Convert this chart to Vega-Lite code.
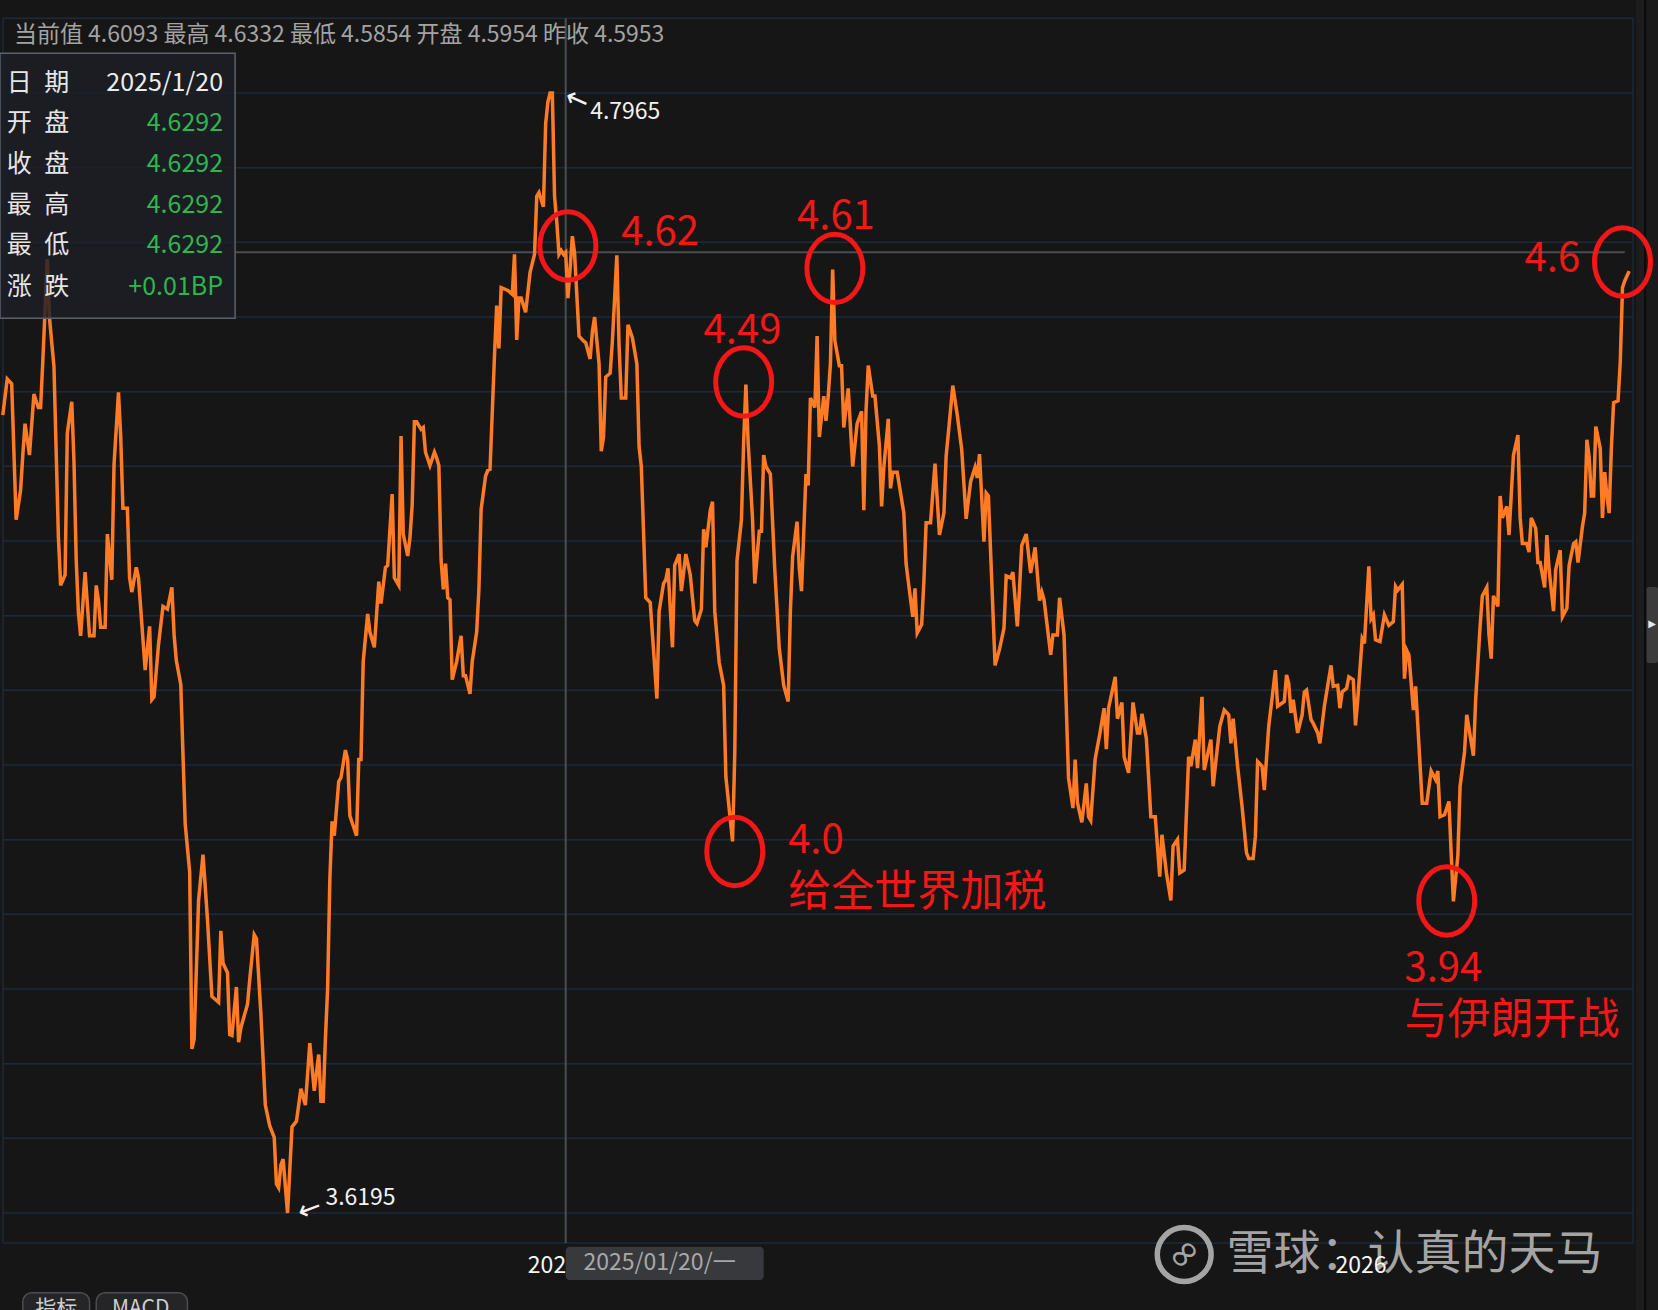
{
  "$schema": "https://vega.github.io/schema/vega-lite/v6.json",
  "width": 1658,
  "height": 1310,
  "autosize": {"type": "none"},
  "padding": 0,
  "background": "#161616",
  "config": {"view": {"stroke": null}, "font": "Noto Sans CJK SC"},
  "datasets": {
    "series": [
      {"date":"2024-05-12","v":4.458},{"date":"2024-05-14","v":4.496},{"date":"2024-05-16","v":4.491},{"date":"2024-05-18","v":4.348},
      {"date":"2024-05-20","v":4.379},{"date":"2024-05-21","v":4.416},{"date":"2024-05-22","v":4.449},{"date":"2024-05-24","v":4.416},
      {"date":"2024-05-26","v":4.480},{"date":"2024-05-28","v":4.466},{"date":"2024-05-29","v":4.466},{"date":"2024-05-30","v":4.515},
      {"date":"2024-06-01","v":4.622},{"date":"2024-06-02","v":4.560},{"date":"2024-06-04","v":4.509},{"date":"2024-06-06","v":4.330},
      {"date":"2024-06-07","v":4.279},{"date":"2024-06-09","v":4.290},{"date":"2024-06-10","v":4.439},{"date":"2024-06-12","v":4.472},
      {"date":"2024-06-13","v":4.409},{"date":"2024-06-14","v":4.306},{"date":"2024-06-15","v":4.250},{"date":"2024-06-16","v":4.226},
      {"date":"2024-06-18","v":4.293},{"date":"2024-06-20","v":4.226},{"date":"2024-06-22","v":4.226},{"date":"2024-06-23","v":4.279},
      {"date":"2024-06-24","v":4.263},{"date":"2024-06-25","v":4.235},{"date":"2024-06-27","v":4.235},{"date":"2024-06-28","v":4.333},
      {"date":"2024-06-30","v":4.285},{"date":"2024-07-01","v":4.406},{"date":"2024-07-03","v":4.482},{"date":"2024-07-04","v":4.436},
      {"date":"2024-07-05","v":4.360},{"date":"2024-07-07","v":4.360},{"date":"2024-07-08","v":4.287},{"date":"2024-07-09","v":4.272},
      {"date":"2024-07-11","v":4.298},{"date":"2024-07-12","v":4.287},{"date":"2024-07-15","v":4.190},{"date":"2024-07-17","v":4.236},
      {"date":"2024-07-18","v":4.159},{"date":"2024-07-19","v":4.162},{"date":"2024-07-21","v":4.217},{"date":"2024-07-23","v":4.257},
      {"date":"2024-07-25","v":4.254},{"date":"2024-07-27","v":4.277},{"date":"2024-07-28","v":4.227},{"date":"2024-07-29","v":4.200},
      {"date":"2024-07-31","v":4.175},{"date":"2024-08-01","v":4.101},{"date":"2024-08-02","v":4.028},{"date":"2024-08-04","v":3.978},
      {"date":"2024-08-05","v":3.792},{"date":"2024-08-06","v":3.802},{"date":"2024-08-08","v":3.948},{"date":"2024-08-10","v":3.996},
      {"date":"2024-08-12","v":3.928},{"date":"2024-08-14","v":3.847},{"date":"2024-08-17","v":3.841},{"date":"2024-08-18","v":3.916},
      {"date":"2024-08-19","v":3.882},{"date":"2024-08-21","v":3.872},{"date":"2024-08-22","v":3.807},{"date":"2024-08-23","v":3.806},
      {"date":"2024-08-25","v":3.857},{"date":"2024-08-26","v":3.799},{"date":"2024-08-27","v":3.814},{"date":"2024-08-30","v":3.839},
      {"date":"2024-08-31","v":3.865},{"date":"2024-09-02","v":3.912},{"date":"2024-09-03","v":3.908},{"date":"2024-09-05","v":3.829},
      {"date":"2024-09-07","v":3.733},{"date":"2024-09-09","v":3.711},{"date":"2024-09-11","v":3.699},{"date":"2024-09-12","v":3.650},
      {"date":"2024-09-13","v":3.646},{"date":"2024-09-14","v":3.670},{"date":"2024-09-15","v":3.676},{"date":"2024-09-17","v":3.6195},
      {"date":"2024-09-19","v":3.710},{"date":"2024-09-21","v":3.716},{"date":"2024-09-23","v":3.750},{"date":"2024-09-25","v":3.733},
      {"date":"2024-09-27","v":3.798},{"date":"2024-09-29","v":3.748},{"date":"2024-10-01","v":3.786},{"date":"2024-10-02","v":3.737},
      {"date":"2024-10-03","v":3.737},{"date":"2024-10-04","v":3.802},{"date":"2024-10-05","v":3.855},{"date":"2024-10-06","v":3.970},
      {"date":"2024-10-07","v":4.031},{"date":"2024-10-08","v":4.016},{"date":"2024-10-10","v":4.073},{"date":"2024-10-11","v":4.077},
      {"date":"2024-10-13","v":4.106},{"date":"2024-10-14","v":4.096},{"date":"2024-10-15","v":4.037},{"date":"2024-10-18","v":4.016},
      {"date":"2024-10-19","v":4.096},{"date":"2024-10-20","v":4.096},{"date":"2024-10-21","v":4.199},{"date":"2024-10-23","v":4.249},
      {"date":"2024-10-24","v":4.230},{"date":"2024-10-26","v":4.214},{"date":"2024-10-28","v":4.283},{"date":"2024-10-29","v":4.260},
      {"date":"2024-10-31","v":4.298},{"date":"2024-11-01","v":4.300},{"date":"2024-11-03","v":4.375},{"date":"2024-11-04","v":4.287},
      {"date":"2024-11-06","v":4.279},{"date":"2024-11-07","v":4.436},{"date":"2024-11-08","v":4.333},{"date":"2024-11-10","v":4.310},
      {"date":"2024-11-11","v":4.329},{"date":"2024-11-12","v":4.363},{"date":"2024-11-13","v":4.451},{"date":"2024-11-14","v":4.451},
      {"date":"2024-11-16","v":4.443},{"date":"2024-11-17","v":4.445},{"date":"2024-11-18","v":4.419},{"date":"2024-11-20","v":4.405},
      {"date":"2024-11-22","v":4.419},{"date":"2024-11-23","v":4.413},{"date":"2024-11-24","v":4.405},{"date":"2024-11-25","v":4.306},
      {"date":"2024-11-26","v":4.275},{"date":"2024-11-27","v":4.302},{"date":"2024-11-28","v":4.266},{"date":"2024-11-29","v":4.264},
      {"date":"2024-11-30","v":4.180},{"date":"2024-12-02","v":4.199},{"date":"2024-12-04","v":4.226},{"date":"2024-12-05","v":4.184},
      {"date":"2024-12-06","v":4.184},{"date":"2024-12-08","v":4.165},{"date":"2024-12-09","v":4.199},{"date":"2024-12-11","v":4.230},
      {"date":"2024-12-12","v":4.275},{"date":"2024-12-13","v":4.359},{"date":"2024-12-15","v":4.394},{"date":"2024-12-16","v":4.400},
      {"date":"2024-12-17","v":4.401},{"date":"2024-12-19","v":4.520},{"date":"2024-12-20","v":4.573},{"date":"2024-12-21","v":4.528},
      {"date":"2024-12-22","v":4.592},{"date":"2024-12-25","v":4.589},{"date":"2024-12-27","v":4.585},{"date":"2024-12-28","v":4.627},
      {"date":"2024-12-29","v":4.537},{"date":"2024-12-30","v":4.581},{"date":"2024-12-31","v":4.581},{"date":"2025-01-02","v":4.566},
      {"date":"2025-01-04","v":4.608},{"date":"2025-01-06","v":4.627},{"date":"2025-01-07","v":4.688},{"date":"2025-01-08","v":4.692},
      {"date":"2025-01-10","v":4.677},{"date":"2025-01-11","v":4.764},{"date":"2025-01-12","v":4.787},{"date":"2025-01-13","v":4.7965},
      {"date":"2025-01-14","v":4.7965},{"date":"2025-01-15","v":4.688},{"date":"2025-01-16","v":4.661},{"date":"2025-01-17","v":4.627},
      {"date":"2025-01-18","v":4.631},{"date":"2025-01-19","v":4.627},{"date":"2025-01-20","v":4.6292},{"date":"2025-01-21","v":4.581},
      {"date":"2025-01-22","v":4.612},{"date":"2025-01-23","v":4.646},{"date":"2025-01-24","v":4.628},{"date":"2025-01-26","v":4.541},
      {"date":"2025-01-28","v":4.536},{"date":"2025-01-29","v":4.534},{"date":"2025-01-31","v":4.517},{"date":"2025-02-01","v":4.546},
      {"date":"2025-02-02","v":4.561},{"date":"2025-02-04","v":4.512},{"date":"2025-02-05","v":4.420},{"date":"2025-02-06","v":4.435},
      {"date":"2025-02-07","v":4.498},{"date":"2025-02-09","v":4.502},{"date":"2025-02-10","v":4.536},{"date":"2025-02-12","v":4.626},
      {"date":"2025-02-13","v":4.531},{"date":"2025-02-14","v":4.476},{"date":"2025-02-16","v":4.476},{"date":"2025-02-17","v":4.553},
      {"date":"2025-02-19","v":4.539},{"date":"2025-02-21","v":4.512},{"date":"2025-02-22","v":4.425},{"date":"2025-02-23","v":4.404},
      {"date":"2025-02-25","v":4.266},{"date":"2025-02-27","v":4.261},{"date":"2025-03-02","v":4.160},{"date":"2025-03-03","v":4.252},
      {"date":"2025-03-05","v":4.281},{"date":"2025-03-06","v":4.285},{"date":"2025-03-07","v":4.297},{"date":"2025-03-09","v":4.214},
      {"date":"2025-03-10","v":4.300},{"date":"2025-03-12","v":4.312},{"date":"2025-03-13","v":4.273},{"date":"2025-03-15","v":4.312},
      {"date":"2025-03-17","v":4.290},{"date":"2025-03-19","v":4.242},{"date":"2025-03-20","v":4.239},{"date":"2025-03-22","v":4.254},
      {"date":"2025-03-23","v":4.338},{"date":"2025-03-24","v":4.319},{"date":"2025-03-26","v":4.358},{"date":"2025-03-27","v":4.367},
      {"date":"2025-03-28","v":4.252},{"date":"2025-03-30","v":4.198},{"date":"2025-04-01","v":4.174},{"date":"2025-04-02","v":4.078},
      {"date":"2025-04-05","v":4.010},{"date":"2025-04-06","v":4.102},{"date":"2025-04-07","v":4.305},{"date":"2025-04-09","v":4.348},
      {"date":"2025-04-10","v":4.430},{"date":"2025-04-11","v":4.490},{"date":"2025-04-12","v":4.430},{"date":"2025-04-14","v":4.348},
      {"date":"2025-04-15","v":4.281},{"date":"2025-04-17","v":4.336},{"date":"2025-04-18","v":4.336},{"date":"2025-04-19","v":4.416},
      {"date":"2025-04-20","v":4.404},{"date":"2025-04-22","v":4.396},{"date":"2025-04-24","v":4.295},{"date":"2025-04-26","v":4.213},
      {"date":"2025-04-28","v":4.174},{"date":"2025-04-30","v":4.157},{"date":"2025-05-01","v":4.252},{"date":"2025-05-02","v":4.309},
      {"date":"2025-05-04","v":4.346},{"date":"2025-05-05","v":4.297},{"date":"2025-05-06","v":4.273},{"date":"2025-05-08","v":4.396},
      {"date":"2025-05-09","v":4.384},{"date":"2025-05-10","v":4.476},{"date":"2025-05-12","v":4.466},{"date":"2025-05-13","v":4.541},
      {"date":"2025-05-14","v":4.435},{"date":"2025-05-16","v":4.478},{"date":"2025-05-17","v":4.452},{"date":"2025-05-18","v":4.478},
      {"date":"2025-05-19","v":4.512},{"date":"2025-05-20","v":4.611},{"date":"2025-05-21","v":4.536},{"date":"2025-05-23","v":4.510},
      {"date":"2025-05-24","v":4.510},{"date":"2025-05-25","v":4.445},{"date":"2025-05-27","v":4.486},{"date":"2025-05-29","v":4.404},
      {"date":"2025-05-31","v":4.449},{"date":"2025-06-02","v":4.462},{"date":"2025-06-03","v":4.358},{"date":"2025-06-04","v":4.463},
      {"date":"2025-06-05","v":4.510},{"date":"2025-06-07","v":4.478},{"date":"2025-06-08","v":4.478},{"date":"2025-06-10","v":4.426},
      {"date":"2025-06-11","v":4.362},{"date":"2025-06-12","v":4.403},{"date":"2025-06-14","v":4.454},{"date":"2025-06-15","v":4.381},
      {"date":"2025-06-16","v":4.398},{"date":"2025-06-18","v":4.398},{"date":"2025-06-21","v":4.355},{"date":"2025-06-22","v":4.302},
      {"date":"2025-06-23","v":4.283},{"date":"2025-06-25","v":4.246},{"date":"2025-06-26","v":4.276},{"date":"2025-06-27","v":4.229},
      {"date":"2025-06-29","v":4.238},{"date":"2025-06-30","v":4.283},{"date":"2025-07-01","v":4.345},{"date":"2025-07-03","v":4.345},
      {"date":"2025-07-05","v":4.407},{"date":"2025-07-07","v":4.332},{"date":"2025-07-09","v":4.355},{"date":"2025-07-10","v":4.415},
      {"date":"2025-07-11","v":4.439},{"date":"2025-07-13","v":4.489},{"date":"2025-07-15","v":4.458},{"date":"2025-07-17","v":4.422},
      {"date":"2025-07-19","v":4.349},{"date":"2025-07-21","v":4.388},{"date":"2025-07-23","v":4.403},{"date":"2025-07-24","v":4.392},
      {"date":"2025-07-25","v":4.417},{"date":"2025-07-27","v":4.325},{"date":"2025-07-28","v":4.376},{"date":"2025-07-29","v":4.373},
      {"date":"2025-08-01","v":4.195},{"date":"2025-08-03","v":4.212},{"date":"2025-08-05","v":4.234},{"date":"2025-08-06","v":4.289},
      {"date":"2025-08-08","v":4.287},{"date":"2025-08-09","v":4.293},{"date":"2025-08-11","v":4.236},{"date":"2025-08-12","v":4.276},
      {"date":"2025-08-13","v":4.321},{"date":"2025-08-15","v":4.333},{"date":"2025-08-17","v":4.292},{"date":"2025-08-19","v":4.319},
      {"date":"2025-08-21","v":4.263},{"date":"2025-08-22","v":4.272},{"date":"2025-08-23","v":4.264},{"date":"2025-08-26","v":4.206},
      {"date":"2025-08-27","v":4.227},{"date":"2025-08-29","v":4.227},{"date":"2025-08-30","v":4.266},{"date":"2025-09-01","v":4.227},
      {"date":"2025-09-03","v":4.077},{"date":"2025-09-05","v":4.045},{"date":"2025-09-06","v":4.096},{"date":"2025-09-07","v":4.051},
      {"date":"2025-09-09","v":4.030},{"date":"2025-09-11","v":4.071},{"date":"2025-09-12","v":4.036},{"date":"2025-09-13","v":4.032},
      {"date":"2025-09-15","v":4.097},{"date":"2025-09-17","v":4.122},{"date":"2025-09-19","v":4.150},{"date":"2025-09-20","v":4.107},
      {"date":"2025-09-21","v":4.150},{"date":"2025-09-24","v":4.183},{"date":"2025-09-25","v":4.139},{"date":"2025-09-27","v":4.156},
      {"date":"2025-09-28","v":4.099},{"date":"2025-09-30","v":4.082},{"date":"2025-10-02","v":4.156},{"date":"2025-10-04","v":4.124},
      {"date":"2025-10-05","v":4.124},{"date":"2025-10-06","v":4.144},{"date":"2025-10-08","v":4.118},{"date":"2025-10-10","v":4.036},
      {"date":"2025-10-12","v":4.036},{"date":"2025-10-14","v":3.973},{"date":"2025-10-15","v":4.017},{"date":"2025-10-17","v":3.977},
      {"date":"2025-10-19","v":3.948},{"date":"2025-10-20","v":4.005},{"date":"2025-10-22","v":4.012},{"date":"2025-10-23","v":3.977},
      {"date":"2025-10-25","v":3.980},{"date":"2025-10-27","v":4.099},{"date":"2025-10-28","v":4.089},{"date":"2025-10-30","v":4.117},
      {"date":"2025-10-31","v":4.087},{"date":"2025-11-02","v":4.162},{"date":"2025-11-03","v":4.085},{"date":"2025-11-06","v":4.117},
      {"date":"2025-11-07","v":4.068},{"date":"2025-11-10","v":4.131},{"date":"2025-11-12","v":4.148},{"date":"2025-11-14","v":4.143},
      {"date":"2025-11-15","v":4.113},{"date":"2025-11-16","v":4.139},{"date":"2025-11-18","v":4.089},{"date":"2025-11-20","v":4.047},
      {"date":"2025-11-22","v":3.998},{"date":"2025-11-23","v":3.992},{"date":"2025-11-25","v":3.992},{"date":"2025-11-26","v":4.015},
      {"date":"2025-11-27","v":4.094},{"date":"2025-11-29","v":4.089},{"date":"2025-11-30","v":4.064},{"date":"2025-12-02","v":4.131},
      {"date":"2025-12-05","v":4.190},{"date":"2025-12-06","v":4.152},{"date":"2025-12-09","v":4.157},{"date":"2025-12-10","v":4.185},
      {"date":"2025-12-11","v":4.176},{"date":"2025-12-12","v":4.145},{"date":"2025-12-13","v":4.159},{"date":"2025-12-15","v":4.124},
      {"date":"2025-12-17","v":4.143},{"date":"2025-12-18","v":4.167},{"date":"2025-12-19","v":4.169},{"date":"2025-12-21","v":4.138},
      {"date":"2025-12-22","v":4.134},{"date":"2025-12-24","v":4.124},{"date":"2025-12-25","v":4.113},{"date":"2025-12-27","v":4.152},
      {"date":"2025-12-30","v":4.195},{"date":"2025-12-31","v":4.173},{"date":"2026-01-02","v":4.174},{"date":"2026-01-03","v":4.150},
      {"date":"2026-01-04","v":4.167},{"date":"2026-01-06","v":4.171},{"date":"2026-01-07","v":4.183},{"date":"2026-01-09","v":4.180},
      {"date":"2026-01-10","v":4.132},{"date":"2026-01-11","v":4.159},{"date":"2026-01-13","v":4.223},{"date":"2026-01-14","v":4.218},
      {"date":"2026-01-16","v":4.299},{"date":"2026-01-17","v":4.244},{"date":"2026-01-18","v":4.248},{"date":"2026-01-19","v":4.222},
      {"date":"2026-01-21","v":4.220},{"date":"2026-01-23","v":4.248},{"date":"2026-01-25","v":4.237},{"date":"2026-01-27","v":4.241},
      {"date":"2026-01-28","v":4.278},{"date":"2026-01-29","v":4.274},{"date":"2026-01-31","v":4.280},{"date":"2026-02-01","v":4.181},
      {"date":"2026-02-02","v":4.211},{"date":"2026-02-03","v":4.206},{"date":"2026-02-05","v":4.148},{"date":"2026-02-06","v":4.173},
      {"date":"2026-02-09","v":4.050},{"date":"2026-02-11","v":4.050},{"date":"2026-02-13","v":4.084},{"date":"2026-02-15","v":4.075},
      {"date":"2026-02-16","v":4.084},{"date":"2026-02-17","v":4.036},{"date":"2026-02-19","v":4.038},{"date":"2026-02-21","v":4.052},
      {"date":"2026-02-22","v":3.997},{"date":"2026-02-23","v":3.947},{"date":"2026-02-25","v":3.995},{"date":"2026-02-26","v":4.068},
      {"date":"2026-02-28","v":4.104},{"date":"2026-03-01","v":4.143},{"date":"2026-03-04","v":4.100},{"date":"2026-03-05","v":4.159},
      {"date":"2026-03-07","v":4.236},{"date":"2026-03-08","v":4.268},{"date":"2026-03-10","v":4.277},{"date":"2026-03-11","v":4.227},
      {"date":"2026-03-12","v":4.202},{"date":"2026-03-13","v":4.268},{"date":"2026-03-15","v":4.257},{"date":"2026-03-16","v":4.373},
      {"date":"2026-03-17","v":4.350},{"date":"2026-03-19","v":4.362},{"date":"2026-03-20","v":4.332},{"date":"2026-03-22","v":4.416},
      {"date":"2026-03-24","v":4.437},{"date":"2026-03-25","v":4.350},{"date":"2026-03-26","v":4.323},{"date":"2026-03-28","v":4.323},
      {"date":"2026-03-29","v":4.314},{"date":"2026-03-30","v":4.350},{"date":"2026-04-01","v":4.339},{"date":"2026-04-02","v":4.303},
      {"date":"2026-04-03","v":4.303},{"date":"2026-04-05","v":4.277},{"date":"2026-04-06","v":4.332},{"date":"2026-04-07","v":4.296},
      {"date":"2026-04-09","v":4.252},{"date":"2026-04-10","v":4.296},{"date":"2026-04-12","v":4.316},{"date":"2026-04-13","v":4.246},
      {"date":"2026-04-15","v":4.255},{"date":"2026-04-16","v":4.300},{"date":"2026-04-18","v":4.323},{"date":"2026-04-19","v":4.325},
      {"date":"2026-04-20","v":4.303},{"date":"2026-04-22","v":4.341},{"date":"2026-04-23","v":4.355},{"date":"2026-04-24","v":4.432},
      {"date":"2026-04-25","v":4.414},{"date":"2026-04-26","v":4.373},{"date":"2026-04-27","v":4.373},{"date":"2026-04-28","v":4.446},
      {"date":"2026-04-30","v":4.423},{"date":"2026-05-01","v":4.350},{"date":"2026-05-02","v":4.398},{"date":"2026-05-03","v":4.373},
      {"date":"2026-05-04","v":4.355},{"date":"2026-05-05","v":4.423},{"date":"2026-05-06","v":4.471},{"date":"2026-05-08","v":4.473},
      {"date":"2026-05-09","v":4.514},{"date":"2026-05-10","v":4.592},{"date":"2026-05-11","v":4.599},{"date":"2026-05-13","v":4.6093}
    ],
    "grid": [
      {"v":4.875},{"v":4.79653},{"v":4.71806},{"v":4.63959},{"v":4.56112},{"v":4.48265},{"v":4.40418},{"v":4.32571},{"v":4.24724},
      {"v":4.16877},{"v":4.0903},{"v":4.01183},{"v":3.93336},{"v":3.85489},{"v":3.77642},{"v":3.69795},{"v":3.61948},{"v":3.58797}
    ],
    "rings": [
      {"date":"2025-01-21","v":4.6357},{"date":"2025-04-10","v":4.4928},{"date":"2025-05-21","v":4.6122},
      {"date":"2025-04-06","v":3.9994},{"date":"2026-02-20","v":3.9474},{"date":"2026-05-10","v":4.6189}
    ],
    "redNums": [
      {"date":"2025-02-14","v":4.6498,"label":"4.62"},{"date":"2025-03-23","v":4.5459,"label":"4.49"},
      {"date":"2025-05-04","v":4.6664,"label":"4.61"},{"date":"2025-04-30","v":4.0102,"label":"4.0"},
      {"date":"2026-02-01","v":3.8763,"label":"3.94"},{"date":"2026-03-27","v":4.6221,"label":"4.6"}
    ],
    "redWords": [
      {"date":"2025-04-30","v":3.9553,"label":"给全世界加税"},{"date":"2026-02-01","v":3.8209,"label":"与伊朗开战"}
    ],
    "extremes": [
      {"date":"2025-01-31","v":4.7769,"label":"4.7965"},{"date":"2024-10-04","v":3.6353,"label":"3.6195"}
    ],
    "tip": [
      {"k":"日\u2002期","val":"2025/1/20","v":4.80669},
      {"k":"开\u2002盘","val":"4.6292","v":4.76465},
      {"k":"收\u2002盘","val":"4.6292","v":4.72188},
      {"k":"最\u2002高","val":"4.6292","v":4.67880},
      {"k":"最\u2002低","val":"4.6292","v":4.63676},
      {"k":"涨\u2002跌","val":"+0.01BP","v":4.59294}
    ],
    "info": [
      {"date":"2024-05-17","v":4.85745,"label":"当前值 4.6093 最高 4.6332 最低 4.5854 开盘 4.5954 昨收 4.5953"}
    ],
    "years": [
      {"date":"2025-01-03","v":3.5638,"label":"2025"},{"date":"2026-01-01","v":3.5638,"label":"2026"}
    ],
    "buttons": [
      {"start":"2024-05-21","end":"2024-06-20","mid":"2024-06-05","label":"指标"},
      {"start":"2024-06-23","end":"2024-08-03","mid":"2024-07-13","label":"MACD"}
    ]
  },
  "layer": [
    {
      "data": {"name": "grid"},
      "mark": {"type": "rule", "color": "#1c2a3a", "strokeWidth": 1.5},
      "encoding": {
        "x": {"datum": {"year":2024,"month":5,"date":12,"hours":2,"utc":true}, "type": "temporal",
              "scale": {"type":"utc","domain":[{"year":2024,"month":5,"date":10,"hours":18,"utc":true},{"year":2026,"month":5,"date":25,"hours":23,"utc":true}]}, "axis": null},
        "x2": {"datum": {"year":2026,"month":5,"date":14,"hours":17,"utc":true}},
        "y": {"field": "v", "type": "quantitative", "scale": {"domain":[3.51757,4.89423],"nice":false,"zero":false}, "axis": null}
      }
    },
    {
      "data": {"values": [{}]},
      "mark": {"type": "rule", "color": "#1c2a3a", "strokeWidth": 1.5},
      "encoding": {
        "x": {"datum": {"year":2026,"month":5,"date":14,"hours":17,"utc":true}, "type": "temporal",
              "scale": {"type":"utc","domain":[{"year":2024,"month":5,"date":10,"hours":18,"utc":true},{"year":2026,"month":5,"date":25,"hours":23,"utc":true}]}, "axis": null},
        "y": {"datum": 4.875, "type": "quantitative", "scale": {"domain":[3.51757,4.89423],"nice":false,"zero":false}, "axis": null},
        "y2": {"datum": 3.58797}
      }
    },
    {
      "data": {"values": [{}]},
      "mark": {"type": "rule", "color": "#1c2a3a", "strokeWidth": 1.5},
      "encoding": {
        "x": {"datum": {"year":2024,"month":5,"date":12,"hours":2,"utc":true}, "type": "temporal",
              "scale": {"type":"utc","domain":[{"year":2024,"month":5,"date":10,"hours":18,"utc":true},{"year":2026,"month":5,"date":25,"hours":23,"utc":true}]}, "axis": null},
        "y": {"datum": 4.875, "type": "quantitative", "scale": {"domain":[3.51757,4.89423],"nice":false,"zero":false}, "axis": null},
        "y2": {"datum": 3.58797}
      }
    },
    {
      "data": {"values": [{}]},
      "mark": {"type": "rect", "fill": "#1d1d1d"},
      "encoding": {
        "x": {"datum": {"year":2026,"month":5,"date":16,"hours":2,"utc":true}, "type": "temporal",
              "scale": {"type":"utc","domain":[{"year":2024,"month":5,"date":10,"hours":18,"utc":true},{"year":2026,"month":5,"date":25,"hours":23,"utc":true}]}, "axis": null},
        "x2": {"datum": {"year":2026,"month":5,"date":19,"hours":16,"utc":true}},
        "y": {"datum": 4.89423, "type": "quantitative", "scale": {"domain":[3.51757,4.89423],"nice":false,"zero":false}, "axis": null},
        "y2": {"datum": 3.51757}
      }
    },
    {
      "data": {"values": [{}]},
      "mark": {"type": "rect", "fill": "#0b0b0b"},
      "encoding": {
        "x": {"datum": {"year":2026,"month":5,"date":19,"hours":16,"utc":true}, "type": "temporal",
              "scale": {"type":"utc","domain":[{"year":2024,"month":5,"date":10,"hours":18,"utc":true},{"year":2026,"month":5,"date":25,"hours":23,"utc":true}]}, "axis": null},
        "x2": {"datum": {"year":2026,"month":5,"date":20,"hours":14,"utc":true}},
        "y": {"datum": 4.89423, "type": "quantitative", "scale": {"domain":[3.51757,4.89423],"nice":false,"zero":false}, "axis": null},
        "y2": {"datum": 3.51757}
      }
    },
    {
      "data": {"values": [{}]},
      "mark": {"type": "rect", "fill": "#1a1a1a"},
      "encoding": {
        "x": {"datum": {"year":2026,"month":5,"date":20,"hours":14,"utc":true}, "type": "temporal",
              "scale": {"type":"utc","domain":[{"year":2024,"month":5,"date":10,"hours":18,"utc":true},{"year":2026,"month":5,"date":25,"hours":23,"utc":true}]}, "axis": null},
        "x2": {"datum": {"year":2026,"month":5,"date":25,"hours":23,"utc":true}},
        "y": {"datum": 4.89423, "type": "quantitative", "scale": {"domain":[3.51757,4.89423],"nice":false,"zero":false}, "axis": null},
        "y2": {"datum": 3.51757}
      }
    },
    {
      "data": {"values": [{}]},
      "mark": {"type": "rect", "fill": "#3c3c3c", "cornerRadius": 2},
      "encoding": {
        "x": {"datum": {"year":2026,"month":5,"date":20,"hours":20,"utc":true}, "type": "temporal",
              "scale": {"type":"utc","domain":[{"year":2024,"month":5,"date":10,"hours":18,"utc":true},{"year":2026,"month":5,"date":25,"hours":23,"utc":true}]}, "axis": null},
        "x2": {"datum": {"year":2026,"month":5,"date":25,"hours":23,"utc":true}},
        "y": {"datum": 4.27736, "type": "quantitative", "scale": {"domain":[3.51757,4.89423],"nice":false,"zero":false}, "axis": null},
        "y2": {"datum": 4.19749}
      }
    },
    {
      "data": {"values": [{}]},
      "mark": {"type": "text", "text": "▶", "font": "DejaVu Sans", "fontSize": 10, "align": "center", "baseline": "middle", "color": "#e6e6e6"},
      "encoding": {
        "x": {"datum": {"year":2026,"month":5,"date":23,"hours":7,"utc":true}, "type": "temporal",
              "scale": {"type":"utc","domain":[{"year":2024,"month":5,"date":10,"hours":18,"utc":true},{"year":2026,"month":5,"date":25,"hours":23,"utc":true}]}, "axis": null},
        "y": {"datum": 4.23848, "type": "quantitative", "scale": {"domain":[3.51757,4.89423],"nice":false,"zero":false}, "axis": null}
      }
    },
    {
      "data": {"values": [{}]},
      "mark": {"type": "rule", "color": "#4a4d54", "strokeWidth": 2},
      "encoding": {
        "x": {"datum": {"year":2025,"month":1,"date":20,"utc":true}, "type": "temporal",
              "scale": {"type":"utc","domain":[{"year":2024,"month":5,"date":10,"hours":18,"utc":true},{"year":2026,"month":5,"date":25,"hours":23,"utc":true}]}, "axis": null},
        "y": {"datum": 4.875, "type": "quantitative", "scale": {"domain":[3.51757,4.89423],"nice":false,"zero":false}, "axis": null},
        "y2": {"datum": 3.58797}
      }
    },
    {
      "data": {"values": [{}]},
      "mark": {"type": "rule", "color": "#4a4d54", "strokeWidth": 2},
      "encoding": {
        "x": {"datum": {"year":2024,"month":8,"date":24,"hours":10,"utc":true}, "type": "temporal",
              "scale": {"type":"utc","domain":[{"year":2024,"month":5,"date":10,"hours":18,"utc":true},{"year":2026,"month":5,"date":25,"hours":23,"utc":true}]}, "axis": null},
        "x2": {"datum": {"year":2026,"month":5,"date":11,"utc":true}},
        "y": {"datum": 4.6292, "type": "quantitative", "scale": {"domain":[3.51757,4.89423],"nice":false,"zero":false}, "axis": null}
      }
    },
    {
      "data": {"name": "series"},
      "mark": {"type": "line", "color": "#ff7b26", "strokeWidth": 3.5},
      "encoding": {
        "x": {"field": "date", "type": "temporal",
              "scale": {"type":"utc","domain":[{"year":2024,"month":5,"date":10,"hours":18,"utc":true},{"year":2026,"month":5,"date":25,"hours":23,"utc":true}]}, "axis": null},
        "y": {"field": "v", "type": "quantitative", "scale": {"domain":[3.51757,4.89423],"nice":false,"zero":false}, "axis": null}
      }
    },
    {
      "data": {"name": "rings"},
      "mark": {"type": "point", "shape": "M-1,0A1,1.22,0,1,1,1,0A1,1.22,0,1,1,-1,0Z", "size": 3136, "filled": false, "color": "#f51717", "strokeWidth": 5, "opacity": 1},
      "encoding": {
        "x": {"field": "date", "type": "temporal",
              "scale": {"type":"utc","domain":[{"year":2024,"month":5,"date":10,"hours":18,"utc":true},{"year":2026,"month":5,"date":25,"hours":23,"utc":true}]}, "axis": null},
        "y": {"field": "v", "type": "quantitative", "scale": {"domain":[3.51757,4.89423],"nice":false,"zero":false}, "axis": null}
      }
    },
    {
      "data": {"name": "redNums"},
      "mark": {"type": "text", "align": "left", "baseline": "middle", "fontSize": 40, "color": "#f51717"},
      "encoding": {
        "x": {"field": "date", "type": "temporal",
              "scale": {"type":"utc","domain":[{"year":2024,"month":5,"date":10,"hours":18,"utc":true},{"year":2026,"month":5,"date":25,"hours":23,"utc":true}]}, "axis": null},
        "y": {"field": "v", "type": "quantitative", "scale": {"domain":[3.51757,4.89423],"nice":false,"zero":false}, "axis": null},
        "text": {"field": "label"}
      }
    },
    {
      "data": {"name": "redWords"},
      "mark": {"type": "text", "align": "left", "baseline": "middle", "fontSize": 43, "color": "#f51717"},
      "encoding": {
        "x": {"field": "date", "type": "temporal",
              "scale": {"type":"utc","domain":[{"year":2024,"month":5,"date":10,"hours":18,"utc":true},{"year":2026,"month":5,"date":25,"hours":23,"utc":true}]}, "axis": null},
        "y": {"field": "v", "type": "quantitative", "scale": {"domain":[3.51757,4.89423],"nice":false,"zero":false}, "axis": null},
        "text": {"field": "label"}
      }
    },
    {
      "data": {"name": "extremes"},
      "mark": {"type": "text", "align": "left", "baseline": "middle", "fontSize": 23, "color": "#f2f2f2"},
      "encoding": {
        "x": {"field": "date", "type": "temporal",
              "scale": {"type":"utc","domain":[{"year":2024,"month":5,"date":10,"hours":18,"utc":true},{"year":2026,"month":5,"date":25,"hours":23,"utc":true}]}, "axis": null},
        "y": {"field": "v", "type": "quantitative", "scale": {"domain":[3.51757,4.89423],"nice":false,"zero":false}, "axis": null},
        "text": {"field": "label"}
      }
    },
    {
      "data": {"values": [{}]},
      "mark": {"type": "text", "text": "←", "font": "DejaVu Sans", "fontSize": 28, "angle": 24, "align": "center", "baseline": "middle", "color": "#f2f2f2"},
      "encoding": {
        "x": {"datum": {"year":2025,"month":1,"date":25,"utc":true}, "type": "temporal",
              "scale": {"type":"utc","domain":[{"year":2024,"month":5,"date":10,"hours":18,"utc":true},{"year":2026,"month":5,"date":25,"hours":23,"utc":true}]}, "axis": null},
        "y": {"datum": 4.7886, "type": "quantitative", "scale": {"domain":[3.51757,4.89423],"nice":false,"zero":false}, "axis": null}
      }
    },
    {
      "data": {"values": [{}]},
      "mark": {"type": "text", "text": "←", "font": "DejaVu Sans", "fontSize": 28, "angle": 339, "align": "center", "baseline": "middle", "color": "#f2f2f2"},
      "encoding": {
        "x": {"datum": {"year":2024,"month":9,"date":27,"utc":true}, "type": "temporal",
              "scale": {"type":"utc","domain":[{"year":2024,"month":5,"date":10,"hours":18,"utc":true},{"year":2026,"month":5,"date":25,"hours":23,"utc":true}]}, "axis": null},
        "y": {"datum": 3.62297, "type": "quantitative", "scale": {"domain":[3.51757,4.89423],"nice":false,"zero":false}, "axis": null}
      }
    },
    {
      "data": {"values": [{}]},
      "mark": {"type": "rect", "fill": "#1c1f26", "fillOpacity": 0.82, "stroke": "#5d6068", "strokeWidth": 1.5},
      "encoding": {
        "x": {"datum": {"year":2024,"month":5,"date":10,"hours":18,"utc":true}, "type": "temporal",
              "scale": {"type":"utc","domain":[{"year":2024,"month":5,"date":10,"hours":18,"utc":true},{"year":2026,"month":5,"date":25,"hours":23,"utc":true}]}, "axis": null},
        "x2": {"datum": {"year":2024,"month":8,"date":24,"hours":10,"utc":true}},
        "y": {"datum": 4.83822, "type": "quantitative", "scale": {"domain":[3.51757,4.89423],"nice":false,"zero":false}, "axis": null},
        "y2": {"datum": 4.55973}
      }
    },
    {
      "data": {"name": "tip"},
      "mark": {"type": "text", "align": "left", "baseline": "middle", "fontSize": 25, "color": "#e6e6e6"},
      "encoding": {
        "x": {"datum": {"year":2024,"month":5,"date":13,"hours":19,"utc":true}, "type": "temporal",
              "scale": {"type":"utc","domain":[{"year":2024,"month":5,"date":10,"hours":18,"utc":true},{"year":2026,"month":5,"date":25,"hours":23,"utc":true}]}, "axis": null},
        "y": {"field": "v", "type": "quantitative", "scale": {"domain":[3.51757,4.89423],"nice":false,"zero":false}, "axis": null},
        "text": {"field": "k"}
      }
    },
    {
      "data": {"name": "tip"},
      "mark": {"type": "text", "align": "right", "baseline": "middle", "fontSize": 25},
      "encoding": {
        "x": {"datum": {"year":2024,"month":8,"date":19,"utc":true}, "type": "temporal",
              "scale": {"type":"utc","domain":[{"year":2024,"month":5,"date":10,"hours":18,"utc":true},{"year":2026,"month":5,"date":25,"hours":23,"utc":true}]}, "axis": null},
        "y": {"field": "v", "type": "quantitative", "scale": {"domain":[3.51757,4.89423],"nice":false,"zero":false}, "axis": null},
        "text": {"field": "val"},
        "color": {"condition": {"test": "datum.val === '2025/1/20'", "value": "#ececec"}, "value": "#2eb54e"}
      }
    },
    {
      "data": {"name": "info"},
      "mark": {"type": "text", "align": "left", "baseline": "middle", "fontSize": 23, "color": "#a3a3a3"},
      "encoding": {
        "x": {"field": "date", "type": "temporal",
              "scale": {"type":"utc","domain":[{"year":2024,"month":5,"date":10,"hours":18,"utc":true},{"year":2026,"month":5,"date":25,"hours":23,"utc":true}]}, "axis": null},
        "y": {"field": "v", "type": "quantitative", "scale": {"domain":[3.51757,4.89423],"nice":false,"zero":false}, "axis": null},
        "text": {"field": "label"}
      }
    },
    {
      "data": {"values": [{}]},
      "mark": {"type": "point", "shape": "circle", "size": 2900, "filled": false, "color": "#b4b4b4", "strokeWidth": 5.5, "opacity": 0.9},
      "encoding": {
        "x": {"datum": {"year":2025,"month":10,"date":25,"utc":true}, "type": "temporal",
              "scale": {"type":"utc","domain":[{"year":2024,"month":5,"date":10,"hours":18,"utc":true},{"year":2026,"month":5,"date":25,"hours":23,"utc":true}]}, "axis": null},
        "y": {"datum": 3.57587, "type": "quantitative", "scale": {"domain":[3.51757,4.89423],"nice":false,"zero":false}, "axis": null}
      }
    },
    {
      "data": {"values": [{}]},
      "mark": {"type": "text", "text": "∞", "font": "DejaVu Sans", "fontSize": 40, "angle": 315, "align": "center", "baseline": "middle", "color": "#b4b4b4", "opacity": 0.9},
      "encoding": {
        "x": {"datum": {"year":2025,"month":10,"date":25,"utc":true}, "type": "temporal",
              "scale": {"type":"utc","domain":[{"year":2024,"month":5,"date":10,"hours":18,"utc":true},{"year":2026,"month":5,"date":25,"hours":23,"utc":true}]}, "axis": null},
        "y": {"datum": 3.57587, "type": "quantitative", "scale": {"domain":[3.51757,4.89423],"nice":false,"zero":false}, "axis": null}
      }
    },
    {
      "data": {"values": [{}]},
      "mark": {"type": "text", "text": "雪球：认真的天马", "align": "left", "baseline": "middle", "fontSize": 47, "color": "#b4b4b4", "opacity": 0.9},
      "encoding": {
        "x": {"datum": {"year":2025,"month":11,"date":13,"utc":true}, "type": "temporal",
              "scale": {"type":"utc","domain":[{"year":2024,"month":5,"date":10,"hours":18,"utc":true},{"year":2026,"month":5,"date":25,"hours":23,"utc":true}]}, "axis": null},
        "y": {"datum": 3.57536, "type": "quantitative", "scale": {"domain":[3.51757,4.89423],"nice":false,"zero":false}, "axis": null}
      }
    },
    {
      "data": {"name": "years"},
      "mark": {"type": "text", "align": "left", "baseline": "middle", "fontSize": 23, "color": "#f5f5f5"},
      "encoding": {
        "x": {"field": "date", "type": "temporal",
              "scale": {"type":"utc","domain":[{"year":2024,"month":5,"date":10,"hours":18,"utc":true},{"year":2026,"month":5,"date":25,"hours":23,"utc":true}]}, "axis": null},
        "y": {"field": "v", "type": "quantitative", "scale": {"domain":[3.51757,4.89423],"nice":false,"zero":false}, "axis": null},
        "text": {"field": "label"}
      }
    },
    {
      "data": {"values": [{}]},
      "mark": {"type": "rect", "fill": "#38393c", "cornerRadius": 4},
      "encoding": {
        "x": {"datum": {"year":2025,"month":1,"date":20,"utc":true}, "type": "temporal",
              "scale": {"type":"utc","domain":[{"year":2024,"month":5,"date":10,"hours":18,"utc":true},{"year":2026,"month":5,"date":25,"hours":23,"utc":true}]}, "axis": null},
        "x2": {"datum": {"year":2025,"month":4,"date":19,"utc":true}},
        "y": {"datum": 3.58408, "type": "quantitative", "scale": {"domain":[3.51757,4.89423],"nice":false,"zero":false}, "axis": null},
        "y2": {"datum": 3.54909}
      }
    },
    {
      "data": {"values": [{}]},
      "mark": {"type": "text", "text": "2025/01/20/一", "align": "left", "baseline": "middle", "fontSize": 23, "color": "#a8a8a8"},
      "encoding": {
        "x": {"datum": {"year":2025,"month":1,"date":28,"utc":true}, "type": "temporal",
              "scale": {"type":"utc","domain":[{"year":2024,"month":5,"date":10,"hours":18,"utc":true},{"year":2026,"month":5,"date":25,"hours":23,"utc":true}]}, "axis": null},
        "y": {"datum": 3.56666, "type": "quantitative", "scale": {"domain":[3.51757,4.89423],"nice":false,"zero":false}, "axis": null}
      }
    },
    {
      "data": {"name": "buttons"},
      "mark": {"type": "rect", "fill": "#252527", "stroke": "#4c4c50", "strokeWidth": 1.5, "cornerRadius": 9},
      "encoding": {
        "x": {"field": "start", "type": "temporal",
              "scale": {"type":"utc","domain":[{"year":2024,"month":5,"date":10,"hours":18,"utc":true},{"year":2026,"month":5,"date":25,"hours":23,"utc":true}]}, "axis": null},
        "x2": {"field": "end"},
        "y": {"datum": 3.53574, "type": "quantitative", "scale": {"domain":[3.51757,4.89423],"nice":false,"zero":false}, "axis": null},
        "y2": {"datum": 3.505}
      }
    },
    {
      "data": {"name": "buttons"},
      "mark": {"type": "text", "align": "center", "baseline": "top", "fontSize": 21, "color": "#cfcfcf"},
      "encoding": {
        "x": {"field": "mid", "type": "temporal",
              "scale": {"type":"utc","domain":[{"year":2024,"month":5,"date":10,"hours":18,"utc":true},{"year":2026,"month":5,"date":25,"hours":23,"utc":true}]}, "axis": null},
        "y": {"datum": 3.53018, "type": "quantitative", "scale": {"domain":[3.51757,4.89423],"nice":false,"zero":false}, "axis": null},
        "text": {"field": "label"}
      }
    }
  ]
}
